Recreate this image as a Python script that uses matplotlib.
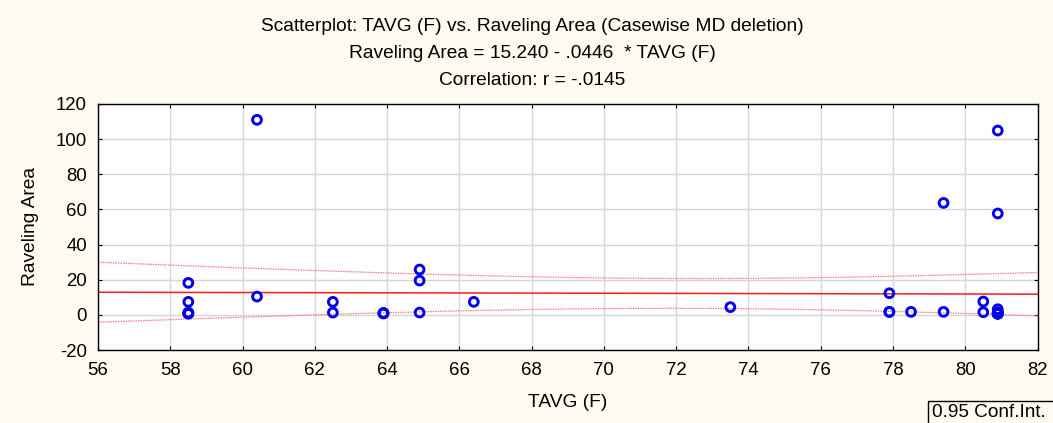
import numpy as np
import matplotlib
matplotlib.use("Agg")
import matplotlib.pyplot as plt
from matplotlib.patches import Rectangle

plt.rcParams['font.family'] = ['Liberation Sans', 'DejaVu Sans']
plt.rcParams['axes.unicode_minus'] = False

# Data (overlapping near-zero cases included)
tavg = [58.5, 58.5, 58.5, 58.5, 58.5, 58.5,
        60.4, 60.4,
        62.5, 62.5,
        63.9, 63.9, 63.9,
        64.9, 64.9, 64.9,
        66.4,
        73.5,
        77.9, 77.9, 77.9,
        78.5,
        79.4, 79.4,
        80.5, 80.5,
        80.9, 80.9, 80.9, 80.9, 80.9, 80.9, 80.9, 80.9, 80.9, 80.9, 80.9, 80.9, 80.9, 80.9]
raveling = [18.2, 7.4, 1.3, 0.8, 0.8, 0.8,
            111.0, 10.4,
            7.4, 1.3,
            1.0, 1.0, 0.8,
            25.8, 19.5, 1.3,
            7.4,
            4.4,
            12.3, 1.7, 1.7,
            1.7,
            63.7, 1.7,
            7.6, 1.5,
            104.9, 57.7, 3.2, 1.5, 0.8, 0.8, 0.8, 0.8, 0.8, 0.8, 0.8, 0.8, 0.8, 0.8]

x_ticks = list(range(56, 83, 2))
y_ticks = list(range(-20, 121, 20))

title_lines = ["Scatterplot: TAVG (F) vs. Raveling Area (Casewise MD deletion)",
               "Raveling Area = 15.240 - .0446  * TAVG (F)",
               "Correlation: r = -.0145"]

x = np.array(tavg)
y = np.array(raveling)
n = len(x)
b, a = np.polyfit(x, y, 1)
resid = y - (a + b * x)
s = np.sqrt(np.sum(resid ** 2) / (n - 2))
xbar = x.mean()
sxx = np.sum((x - xbar) ** 2)
t_val = 2.024  # t(0.975, df=38)
xs = np.linspace(56, 82, 300)
yfit = a + b * xs
hw = t_val * s * np.sqrt(1.0 / n + (xs - xbar) ** 2 / sxx)

W, H = 1053, 423
fig = plt.figure(figsize=(W / 100, H / 100), dpi=100, facecolor='#fffbf0')
ax = fig.add_axes([98 / W, 1 - 350 / H, (1037.5 - 98) / W, (350 - 104) / H])
ax.set_facecolor('white')

ax.plot(xs, yfit, color='#ff1a1a', lw=1.1, zorder=2)
ax.plot(xs, yfit + hw, color='#ff7a7a', lw=0.9, ls=(0, (1.2, 0.8)), zorder=2)
ax.plot(xs, yfit - hw, color='#ff7a7a', lw=0.9, ls=(0, (1.2, 0.8)), zorder=2)
ax.scatter(x, y, s=40, facecolors='none', edgecolors='#0000ee', linewidths=2.1, zorder=3)

ax.set_xlim(56, 82)
ax.set_ylim(-20, 120)
ax.set_xticks(x_ticks)
ax.set_yticks(y_ticks)
ax.grid(True, color='#d6d6d6', lw=1.0)
ax.set_axisbelow(True)
ax.tick_params(direction='in', length=3, labelsize=13.4, top=True, right=True,
               labeltop=False, labelright=False)
ax.tick_params(axis='x', pad=8.5)
ax.tick_params(axis='y', pad=8)
for sp in ax.spines.values():
    sp.set_color('black')
    sp.set_linewidth(1.0)

ax.set_xlabel("TAVG (F)", fontsize=13.8, labelpad=11)
ax.set_ylabel("Raveling Area", fontsize=13.8, labelpad=12)

for i, (line, yc) in enumerate(zip(title_lines, [26.7, 53.3, 80.0])):
    fig.text(532 / W, 1 - yc / H, line, ha='center', va='center', fontsize=13.8)

box_top = (H - 400.5) / H
fig.patches.append(Rectangle((927.5 / W, -10 / H), 140 / W, box_top + 10 / H,
                             transform=fig.transFigure, facecolor='#fffbf0',
                             edgecolor='black', lw=1.0, zorder=5))
fig.text(932 / W, 1 - 412 / H, "0.95 Conf.Int.", ha='left', va='center', fontsize=13.7, zorder=6)

fig.savefig("out.png", dpi=100, facecolor=fig.get_facecolor())
